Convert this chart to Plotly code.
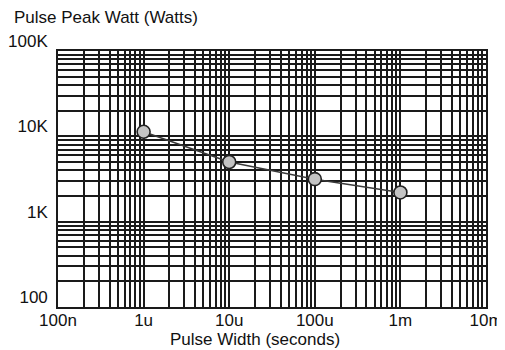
import plotly.graph_objects as go

# Data
pulse_width = [1e-6, 1e-5, 1e-4, 1e-3]          # seconds
peak_watt = [11300, 5000, 3150, 2200]           # watts

x_tickvals = [1e-7, 1e-6, 1e-5, 1e-4, 1e-3, 1e-2]
x_ticktext = ["100n", "1u", "10u", "100u", "1m", "10m"]
y_tickvals = [100, 1000, 10000, 100000]
y_ticktext = ["100", "1K", "10K", "100K"]

x_minor = [m * d for d in x_tickvals[:-1] for m in range(2, 10)]
y_minor = [m * d for d in y_tickvals[:-1] for m in range(2, 10)]

FONT = "Liberation Sans, Arial, sans-serif"
GRID = "#1a1a1a"

# page body has an 8px default margin; plot area target (window px): x 58..486, y 51..307
OFF = 8
L, T = 58 - OFF, 51 - OFF
PW, PH = 428, 256
W, H = 505, 350

fig = go.Figure()
fig.add_trace(go.Scatter(
    x=pulse_width, y=peak_watt, mode="lines+markers",
    line=dict(color="#3a3a3a", width=1.5),
    marker=dict(size=13, color="#c4c4c4", line=dict(color="#222222", width=1.6)),
    showlegend=False,
))

fig.update_layout(
    template="none",
    width=W, height=H,
    margin=dict(l=L, r=W - L - PW, t=T, b=H - T - PH, autoexpand=False),
    paper_bgcolor="white", plot_bgcolor="white",
    font=dict(family=FONT, size=17, color="#111"),
    xaxis=dict(
        type="log", range=[-7, -2], automargin=False,
        tickmode="array", tickvals=x_tickvals, ticktext=x_ticktext,
        showgrid=True, gridcolor=GRID, gridwidth=1.6,
        minor=dict(tickmode="array", tickvals=x_minor, showgrid=True,
                   gridcolor=GRID, gridwidth=1.6, ticks=""),
        showline=True, linecolor=GRID, linewidth=1.6, mirror=True,
        ticks="", ticklen=0, ticklabelstandoff=-3, zeroline=False,
        tickfont=dict(family=FONT, size=17, color="#111"),
    ),
    yaxis=dict(
        type="log", range=[2, 5], automargin=False,
        tickmode="array", tickvals=y_tickvals, ticktext=y_ticktext,
        showgrid=True, gridcolor=GRID, gridwidth=1.6,
        minor=dict(tickmode="array", tickvals=y_minor, showgrid=True,
                   gridcolor=GRID, gridwidth=1.6, ticks=""),
        showline=True, linecolor=GRID, linewidth=1.6, mirror=True,
        ticks="", ticklen=0, ticklabelstandoff=5, ticklabelshift=-10, zeroline=False,
        tickfont=dict(family=FONT, size=17, color="#111"),
    ),
    annotations=[
        dict(text="Pulse Peak Watt (Watts)", xref="paper", yref="paper",
             x=(12 - 58) / PW, y=(307 - 17) / PH, xanchor="left", yanchor="middle",
             showarrow=False, font=dict(family=FONT, size=17, color="#111")),
        dict(text="Pulse Width (seconds)", xref="paper", yref="paper",
             x=(255 - 58) / PW, y=(307 - 339) / PH, xanchor="center", yanchor="middle",
             showarrow=False, font=dict(family=FONT, size=17, color="#111")),
    ],
)

fig.write_html("out.html")
